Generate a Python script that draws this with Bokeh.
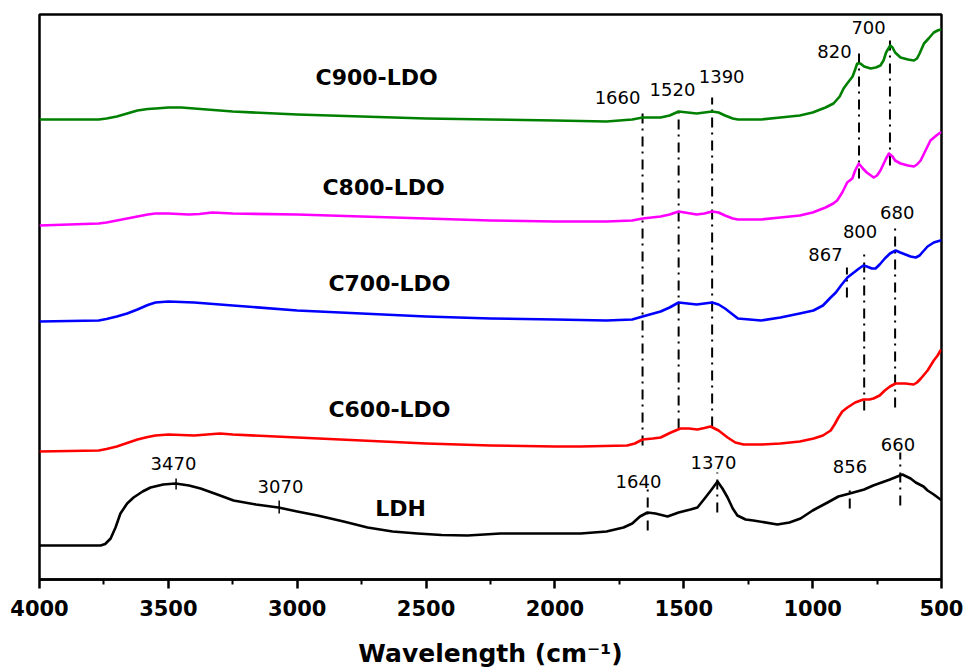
from bokeh.plotting import figure
from bokeh.models import Range1d, FixedTicker
from bokeh.core.properties import value
from bokeh.embed import file_html
from bokeh.resources import INLINE

# ---------------- data (wavenumber in cm-1, intensity in a.u., offset stacked) -------------
c900_wn = [4000, 3770, 3740, 3700, 3660, 3620, 3580, 3550, 3500, 3450, 3400, 3250, 3000, 2750,
           2500, 2250, 2000, 1800, 1700, 1660, 1590, 1555, 1520, 1485, 1450, 1420, 1390, 1365,
           1340, 1310, 1290, 1200, 1125, 1050, 1000, 950, 919, 895, 880, 866, 845, 835, 827,
           815, 800, 775, 755, 737, 725, 715, 699, 690, 680, 659, 630, 607, 595, 585, 568,
           550, 530, 515, 504, 500]
c900_y = [45.9, 45.9, 46.0, 46.2, 46.5, 46.8, 46.95, 47.0, 47.1, 47.1, 47.0, 46.7, 46.4, 46.2,
          46.0, 45.9, 45.8, 45.7, 45.9, 46.1, 46.1, 46.3, 46.7, 46.6, 46.5, 46.6, 46.7, 46.6,
          46.3, 46.0, 45.9, 45.9, 46.1, 46.3, 46.6, 47.1, 47.5, 48.2, 49.0, 49.5, 50.2, 50.9, 51.5,
          51.5, 51.2, 51.0, 51.1, 51.3, 51.8, 52.6, 53.3, 53.1, 52.6, 52.1, 51.9, 51.8, 52.0, 52.5, 53.5,
          54.0, 54.6, 54.8, 54.9, 54.9]

c800_wn = [4000, 3770, 3740, 3700, 3660, 3620, 3580, 3550, 3500, 3420, 3380, 3330, 3250, 3000,
           2750, 2500, 2250, 2000, 1800, 1700, 1660, 1590, 1555, 1520, 1485, 1450, 1420, 1390,
           1365, 1340, 1310, 1290, 1200, 1125, 1050, 1000, 950, 920, 905, 885, 866, 846, 835,
           821, 805, 790, 763, 750, 737, 715, 704, 690, 680, 659, 630, 607, 595, 581, 560,
           543, 520, 504, 500]
c800_y = [35.3, 35.5, 35.6, 35.8, 36.0, 36.2, 36.4, 36.5, 36.5, 36.4, 36.45, 36.6, 36.5, 36.4,
          36.2, 36.0, 35.8, 35.7, 35.7, 35.8, 36.0, 36.2, 36.4, 36.7, 36.55, 36.4, 36.5, 36.7,
          36.6, 36.3, 36.0, 35.9, 35.9, 36.1, 36.3, 36.6, 37.1, 37.5, 37.8, 38.6, 39.6, 40.0, 40.8,
          41.5, 41.0, 40.6, 40.1, 40.3, 40.8, 42.0, 42.5, 42.2, 41.8, 41.5, 41.3, 41.2, 41.4, 41.8, 42.9,
          43.8, 44.3, 44.6, 44.6]

c700_wn = [4000, 3770, 3740, 3700, 3660, 3620, 3580, 3550, 3500, 3400, 3250, 3000, 2750, 2500,
           2250, 2000, 1800, 1700, 1660, 1590, 1555, 1520, 1485, 1450, 1420, 1390, 1365, 1340,
           1310, 1290, 1200, 1125, 1050, 997, 960, 930, 910, 890, 865, 840, 820, 803, 790,
           770, 756, 740, 720, 700, 678, 660, 640, 620, 600, 585, 575, 554, 530, 504, 500]
c700_y = [25.7, 25.8, 25.95, 26.2, 26.5, 26.9, 27.35, 27.6, 27.7, 27.6, 27.3, 26.8, 26.5, 26.2,
          26.0, 25.9, 25.8, 25.9, 26.2, 26.7, 27.1, 27.6, 27.5, 27.4, 27.5, 27.6, 27.4, 27.0,
          26.4, 26.0, 25.8, 26.1, 26.5, 26.8, 27.3, 28.1, 28.6, 29.3, 30.1, 30.6, 31.0, 31.3, 31.2,
          31.0, 31.0, 31.4, 32.0, 32.5, 32.8, 32.6, 32.4, 32.2, 32.1, 32.3, 32.6, 33.2, 33.6, 33.8, 33.8]

c600_wn = [4000, 3770, 3740, 3700, 3660, 3620, 3580, 3550, 3500, 3400, 3300, 3250, 3000, 2750,
           2500, 2250, 2000, 1900, 1720, 1690, 1660, 1620, 1590, 1550, 1513, 1480, 1447, 1420,
           1396, 1365, 1330, 1300, 1268, 1200, 1125, 1050, 996, 960, 930, 915, 900, 885, 865,
           835, 803, 780, 764, 740, 720, 700, 678, 660, 640, 608, 595, 580, 554, 530, 515, 504, 500]
c600_y = [12.7, 12.8, 12.95, 13.2, 13.55, 13.9, 14.15, 14.3, 14.4, 14.3, 14.5, 14.4, 14.1, 13.8,
          13.5, 13.3, 13.2, 13.2, 13.3, 13.5, 13.9, 14.0, 14.1, 14.6, 15.0, 15.0, 14.9, 15.05,
          15.2, 14.8, 14.1, 13.6, 13.4, 13.4, 13.5, 13.7, 14.0, 14.3, 14.8, 15.4, 16.1, 16.7, 17.1,
          17.6, 17.9, 17.9, 18.0, 18.3, 18.8, 19.2, 19.5, 19.5, 19.5, 19.4, 19.6, 20.0, 20.8, 21.8, 22.3, 22.8, 22.8]

ldh_wn = [4000, 3763, 3745, 3724, 3705, 3686, 3660, 3635, 3600, 3569, 3520, 3472, 3420, 3375,
          3310, 3247, 3160, 3073, 3000, 2921, 2820, 2727, 2630, 2533, 2440, 2339, 2211, 1900,
          1800, 1734, 1700, 1670, 1641, 1610, 1563, 1520, 1474, 1447, 1416, 1395, 1369, 1350,
          1330, 1310, 1292, 1260, 1230, 1137, 1090, 1047, 1000, 942, 900, 856, 800, 765, 700,
          652, 620, 600, 570, 554, 530, 504, 500]
ldh_y = [3.3, 3.3, 3.45, 4.0, 5.1, 6.5, 7.5, 8.1, 8.7, 9.1, 9.4, 9.5, 9.3, 9.0,
         8.4, 7.8, 7.4, 7.1, 6.7, 6.3, 5.7, 5.1, 4.7, 4.5, 4.35, 4.3, 4.5, 4.5,
         4.7, 5.1, 5.5, 6.2, 6.6, 6.5, 6.2, 6.6, 6.9, 7.1, 8.1, 8.8, 9.7, 9.0,
         8.1, 7.0, 6.3, 5.9, 5.8, 5.4, 5.6, 6.0, 6.8, 7.6, 8.2, 8.5, 8.9, 9.3, 9.9,
         10.4, 10.0, 9.6, 9.2, 8.8, 8.4, 7.9, 7.9]

series_names = ["C900-LDO", "C800-LDO", "C700-LDO", "C600-LDO", "LDH"]
series_colors = ["#008000", "#ff00ff", "#0000ff", "#ff0000", "#000000"]

# sample labels (position in data units)
name_x = [2692, 2665, 2642, 2642, 2599]
name_y = [50.1, 39.1, 29.5, 16.9, 7.0]

# dash-dot peak markers: wavenumber, lower and upper extent
peak_wn = [1660, 1520, 1390, 820, 700, 867, 800, 680, 1640, 1370, 856, 660]
peak_lo = [13.3, 15.0, 15.2, 40.0, 41.3, 28.1, 16.8, 17.1, 4.8, 6.6, 7.0, 7.3]
peak_hi = [47.0, 47.0, 48.1, 52.6, 54.1, 31.1, 32.5, 35.3, 8.9, 10.6, 9.3, 12.6]

# small solid ticks on LDH curve
tick_wn = [3470, 3070]
tick_lo = [8.9, 6.5]
tick_hi = [10.0, 7.8]

# peak labels
lab_text = ["1660", "1520", "1390", "820", "700", "867", "800", "680",
            "1640", "1370", "856", "660", "3470", "3070"]
lab_x = [1757, 1544, 1353, 915, 783, 950, 816, 672, 1676, 1385, 855, 669, 3480, 3065]
lab_y = [48.1, 48.9, 50.2, 52.7, 55.1, 32.4, 34.7, 36.6, 9.7, 11.6, 11.2, 13.4, 11.5, 9.2]

x_ticks = [4000, 3500, 3000, 2500, 2000, 1500, 1000, 500]
x_minor = [3750, 3250, 2750, 2250, 1750, 1250, 750]

# ---------------- figure ----------------
p = figure(width=966, height=671, x_range=Range1d(4000, 500), y_range=Range1d(-0.1, 56.4),
           output_backend="svg", toolbar_location=None,
           min_border_left=39, min_border_right=25, min_border_top=14, min_border_bottom=92)
p.background_fill_color = "white"
p.border_fill_color = "white"
p.grid.visible = False
p.yaxis.visible = False
p.outline_line_color = "black"
p.outline_line_width = 2.5

ax = p.xaxis[0]
ax.ticker = FixedTicker(ticks=x_ticks, minor_ticks=x_minor)
ax.axis_line_width = 2.5
ax.major_tick_line_width = 2.5
ax.minor_tick_line_width = 2
ax.major_tick_out = 9
ax.major_tick_in = 0
ax.minor_tick_out = 5
ax.minor_tick_in = 0
ax.major_label_text_font = "DejaVu Sans"
ax.major_label_text_font_style = "bold"
ax.major_label_text_font_size = "21px"
ax.major_label_text_color = "black"
ax.major_label_standoff = 11
ax.axis_label = "Wavelength (cm\u207b\u00b9)"
ax.axis_label_text_font = "DejaVu Sans"
ax.axis_label_text_font_style = "bold"
ax.axis_label_text_font_size = "25px"
ax.axis_label_text_color = "black"
ax.axis_label_standoff = 20

# peak marker lines (drawn beneath curves)
p.segment(x0=peak_wn, y0=peak_lo, x1=peak_wn, y1=peak_hi, line_color="black",
          line_width=2, line_dash="10 6 2 5")
p.segment(x0=tick_wn, y0=tick_lo, x1=tick_wn, y1=tick_hi, line_color="black", line_width=1.5)

# spectra
all_wn = [c900_wn, c800_wn, c700_wn, c600_wn, ldh_wn]
all_y = [c900_y, c800_y, c700_y, c600_y, ldh_y]
for wn, yy, col in zip(all_wn, all_y, series_colors):
    p.line(wn, yy, line_color=col, line_width=2.6, line_join="round")

# sample names
p.text(x=name_x, y=name_y, text=series_names, text_align="center", text_baseline="middle",
       text_font=value("DejaVu Sans"), text_font_style="bold", text_font_size="22px",
       text_color="black")

# peak labels
p.text(x=lab_x, y=lab_y, text=lab_text, text_align="center", text_baseline="middle",
       text_font=value("DejaVu Sans"), text_font_size="18px", text_color="black")

open("out.html", "w").write(file_html(p, INLINE))
